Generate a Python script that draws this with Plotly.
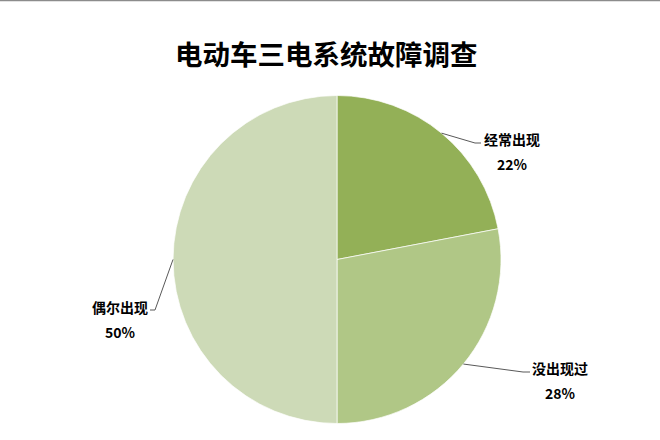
import math
import plotly.graph_objects as go

labels = ["经常出现", "没出现过", "偶尔出现"]
values = [22, 28, 50]
pct_text = ["22%", "28%", "50%"]
colors = ["#93B057", "#B0C786", "#CDDAB7"]
title_text = "电动车三电系统故障调查"

W, H = 660, 440
cx, cy, R = 337, 259.5, 164

fig = go.Figure(go.Pie(
    labels=labels, values=values, sort=False, direction="clockwise", rotation=0,
    marker=dict(colors=colors, line=dict(color="white", width=0.7)),
    textinfo="none", hoverinfo="label+percent", showlegend=False,
    domain=dict(x=[(cx - R) / W, (cx + R) / W], y=[1 - (cy + R) / H, 1 - (cy - R) / H]),
))

# label placement (pixel positions of text block centre) and elbow offsets
label_pos = [(512, 139), (560, 368), (120, 307)]
elbow = [(475, 143, 481), (523, 372, 530), (155, 310, 150)]

def px(x):
    return x / W

def py(y):
    return 1 - y / H

shapes = []
annotations = []
total = sum(values)
cum = 0
for i, v in enumerate(values):
    mid = (cum + v / 2) / total * 2 * math.pi
    cum += v
    sx = cx + R * math.sin(mid)
    sy = cy - R * math.cos(mid)
    ex, ey, hx = elbow[i]
    shapes.append(dict(type="path", xref="paper", yref="paper",
                       path=f"M {px(sx)},{py(sy)} L {px(ex)},{py(ey)} L {px(hx)},{py(ey)}",
                       line=dict(color="#595959", width=1)))
    lx, ly = label_pos[i]
    annotations.append(dict(x=px(lx), y=py(ly), xref="paper", yref="paper", showarrow=False,
                            text=f"<b>{labels[i]}</b>", xanchor="center", yanchor="middle",
                            font=dict(size=14, color="#000000", family="Noto Sans CJK SC")))
    annotations.append(dict(x=px(lx), y=py(ly + 25), xref="paper", yref="paper", showarrow=False,
                            text=f"<b>{pct_text[i]}</b>", xanchor="center", yanchor="middle",
                            font=dict(size=14, color="#000000", family="Noto Sans CJK SC")))

annotations.append(dict(x=px(326), y=py(53), xref="paper", yref="paper", showarrow=False,
                        text=f"<b>{title_text}</b>", xanchor="center", yanchor="middle",
                        font=dict(size=27.5, color="#000000", family="Noto Sans CJK SC")))

shapes.append(dict(type="line", xref="paper", yref="paper", x0=0, x1=1, y0=py(0.5), y1=py(0.5),
                   line=dict(color="#8C8C8C", width=1.5)))

fig.update_layout(width=W, height=H, margin=dict(l=0, r=0, t=0, b=0),
                  paper_bgcolor="white", plot_bgcolor="white",
                  shapes=shapes, annotations=annotations)

fig.write_html("out.html", config={"displayModeBar": False},
               post_script="document.body.style.margin='0';document.body.style.padding='0';")
